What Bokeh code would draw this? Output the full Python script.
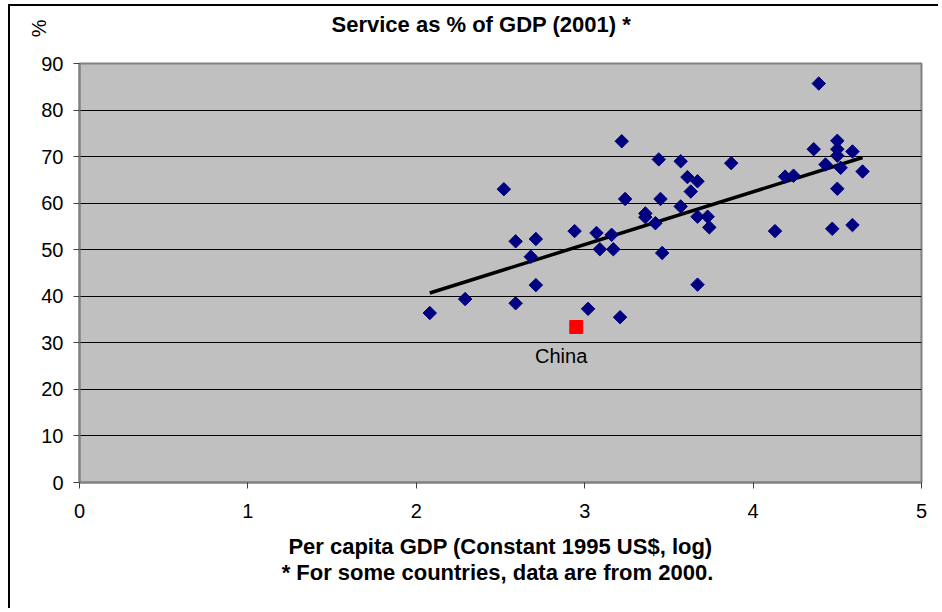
import numpy as np
from bokeh.plotting import figure
from bokeh.models import Label, FixedTicker, ColumnDataSource, Title
from bokeh.embed import file_html
from bokeh.resources import INLINE

# ---- data ----
gdp_log = [2.08, 2.29, 2.52, 2.59, 2.59, 2.68, 2.71, 2.71, 2.94, 3.02,
           3.07, 3.09, 3.16, 3.17, 3.21, 3.22, 3.24, 3.36, 3.36, 3.42,
           3.44, 3.45, 3.46, 3.57, 3.57, 3.61, 3.63, 3.67, 3.67, 3.67,
           3.73, 3.74, 3.87, 4.13, 4.19, 4.24, 4.36, 4.39, 4.43, 4.47,
           4.50, 4.50, 4.50, 4.50, 4.52, 4.59, 4.59, 4.65]
service_pct = [36.4, 39.4, 63.0, 51.8, 38.5, 48.5, 52.3, 42.4, 54.0, 37.3,
               53.6, 50.1, 53.2, 50.1, 35.5, 73.3, 60.9, 57.8, 57.0, 55.7,
               69.4, 60.9, 49.3, 69.0, 59.3, 65.6, 62.5, 64.7, 57.1, 42.5,
               57.1, 54.8, 68.6, 54.0, 65.7, 65.9, 71.6, 85.7, 68.3, 54.5,
               71.6, 73.4, 70.2, 63.1, 67.6, 71.1, 55.3, 66.8]
china_x = [2.95]
china_y = [33.4]
china_name = "China"
trend_x = [2.08, 4.65]
trend_y = [40.7, 69.8]
x_ticks = [0, 1, 2, 3, 4, 5]
y_ticks = [0, 10, 20, 30, 40, 50, 60, 70, 80, 90]
title_text = "Service as % of GDP (2001) *"
x_title = "Per capita GDP (Constant 1995 US$, log)"
footnote = "* For some countries,  data are from 2000."
y_title = "%"

FONT = "Liberation Sans"

p = figure(width=930, height=604, x_range=(0, 5), y_range=(0, 90),
           output_backend="svg", toolbar_location=None,
           min_border_left=69, min_border_top=57, min_border_right=19,
           min_border_bottom=128)
p.styles = {"margin-left": "8px", "margin-top": "4px",
            "border-left": "2px solid black", "border-top": "2px solid black"}

p.background_fill_color = "#C0C0C0"
p.border_fill_color = "white"
p.outline_line_color = "#808080"
p.outline_line_width = 2

p.xgrid.visible = False
p.ygrid.ticker = FixedTicker(ticks=y_ticks)
p.ygrid.grid_line_color = "black"
p.ygrid.grid_line_width = 1

for ax in (p.xaxis[0], p.yaxis[0]):
    ax.axis_line_color = "#808080"
    ax.axis_line_width = 2
    ax.major_tick_line_color = "#404040"
    ax.major_tick_line_width = 1
    ax.major_tick_out = 6
    ax.major_tick_in = 0
    ax.minor_tick_line_color = None
    ax.major_label_text_font = FONT
    ax.major_label_text_font_size = "20px"
    ax.major_label_text_color = "black"

p.xaxis.ticker = FixedTicker(ticks=x_ticks)
p.yaxis.ticker = FixedTicker(ticks=y_ticks)
p.xaxis.major_label_standoff = 15
p.yaxis.major_label_standoff = 10

p.xaxis.axis_label = x_title
p.xaxis.axis_label_text_font = FONT
p.xaxis.axis_label_text_font_size = "22px"
p.xaxis.axis_label_text_font_style = "bold"
p.xaxis.axis_label_text_color = "black"
p.xaxis.axis_label_standoff = 13

# main title (an empty second line lifts it towards the top edge)
p.title = Title(text=title_text + "\n\u00a0", text_font=FONT,
                text_font_size="22px", text_font_style="bold",
                text_color="black", align="left", offset=252, standoff=4)

# "%" unit of the value axis: rotated title on the left, pushed above the frame
p.add_layout(Title(text=y_title, text_font=FONT, text_font_size="20px",
                   text_font_style="normal", text_color="black",
                   align="right", offset=-44, standoff=-22,
                   vertical_align="bottom"), "left")

# footnote below the axis title
p.add_layout(Title(text=footnote, text_font=FONT, text_font_size="22px",
                   text_font_style="bold", text_color="black", align="center",
                   standoff=-7), "below")

# trend line
p.line(trend_x, trend_y, line_color="black", line_width=3.5)

# scatter
src = ColumnDataSource(dict(x=gdp_log, y=service_pct))
p.scatter("x", "y", source=src, marker="square", size=9.5, angle=np.pi / 4,
          fill_color="#000080", line_color="#000080")
p.scatter(china_x, china_y, marker="square", size=13,
          fill_color="#FF0000", line_color="#FF0000")

p.add_layout(Label(x=2.86, y=27.1, text=china_name, text_font=FONT,
                   text_font_size="20px", text_align="center",
                   text_baseline="middle", text_color="black"))

open("out.html", "w").write(file_html(p, INLINE))
